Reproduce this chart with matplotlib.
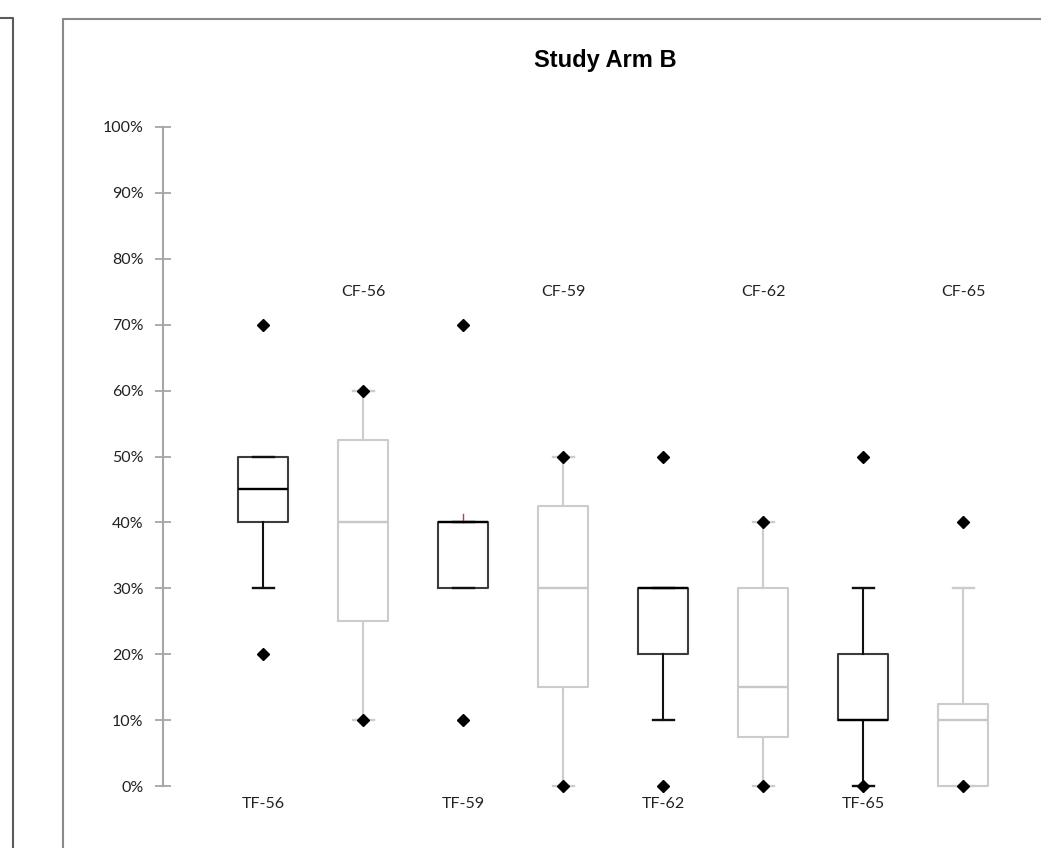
import matplotlib
matplotlib.use("Agg")
from matplotlib import pyplot as plt
from matplotlib.patches import Rectangle
from matplotlib.lines import Line2D
import numpy as np

# data (percent)
groups = ["TF-56", "CF-56", "TF-59", "CF-59", "TF-62", "CF-62", "TF-65", "CF-65"]
q1 = [40, 25, 30, 15, 20, 7.5, 10, 0]
med = [45, 40, 40, 30, 30, 15, 10, 10]
q3 = [50, 52.5, 40, 42.5, 30, 30, 20, 12.5]
whislo = [30, 10, 30, 0, 10, 0, 0, 0]
whishi = [50, 60, 40, 50, 30, 40, 30, 30]
fliers = [[70, 20], [60, 10], [70, 10], [50, 0], [50, 0], [40, 0], [50, 0], [40, 0]]
yticks = [0, 10, 20, 30, 40, 50, 60, 70, 80, 90, 100]
title = "Study Arm B"

label_font = "Lato"

W, H = 1041, 848
fig = plt.figure(figsize=(W / 100, H / 100), dpi=100)

# axes placed so that 0% / 100% and the first box line up with the picture
ax = fig.add_axes([163 / W, 62 / H, (W - 163) / W, 659 / H])

stats = []
for i in range(len(groups)):
    stats.append(dict(label=groups[i], q1=q1[i], med=med[i], q3=q3[i],
                      whislo=whislo[i], whishi=whishi[i], fliers=fliers[i]))

pos = np.arange(1, len(groups) + 1)
for i, s in enumerate(stats):
    tf = groups[i].startswith("TF")
    edge = "#3c3c3c" if tf else "#cccccc"
    wcol = "#111111" if tf else "#cccccc"
    mcol = "#000000" if tf else "#c8c8c8"
    parts = ax.bxp([s], positions=[pos[i]], widths=0.5, showfliers=True,
                   boxprops=dict(color=edge, linewidth=1.5),
                   whiskerprops=dict(color=wcol, linewidth=1.5),
                   capprops=dict(color=wcol, linewidth=1.7),
                   medianprops=dict(color=mcol, linewidth=1.7),
                   flierprops=dict(marker="D", markerfacecolor="black",
                                   markeredgecolor="black", markersize=6),
                   capwidths=0.21, manage_ticks=False)
    for art in parts["fliers"]:
        art.set_clip_on(False)
        art.set_zorder(5)
    for key in ["boxes", "caps", "medians", "whiskers"]:
        for art in parts[key]:
            art.set_clip_on(False)

# small red mark on top of TF-59
ax.plot([pos[2], pos[2]], [40, 41.2], color="#e0303c", linewidth=1)

ax.set_xlim(0, (W - 163) / 100)
ax.set_ylim(0, 100)

for sp in ["top", "right", "bottom"]:
    ax.spines[sp].set_visible(False)
ax.spines["left"].set_color("#a6a6a6")
ax.spines["left"].set_linewidth(1.5)

ax.set_xticks([])
ax.set_yticks(yticks)
ax.set_yticklabels([f"{t}%" for t in yticks], fontsize=11.5, family=label_font, color="#222222")
ax.tick_params(axis="y", direction="inout", length=12, width=1.3, color="#a6a6a6", pad=8)

# category labels: TF below the axis, CF near the top
for i, g in enumerate(groups):
    if g.startswith("TF"):
        ax.text(pos[i], -2.8, g, ha="center", va="center", fontsize=11.5,
                family=label_font, color="#222222", clip_on=False)
    else:
        ax.text(pos[i], 75, g, ha="center", va="center", fontsize=11.5,
                family=label_font, color="#222222", clip_on=False)

fig.text(605 / W, 1 - 61 / H, title, ha="center", va="center", fontsize=17,
         fontweight="bold", family="Liberation Sans")

# chart frame and the edge of the neighbouring chart
fig.add_artist(Rectangle((63 / W, -0.05), 1.1, 1 - 19 / H + 0.05, transform=fig.transFigure,
                         fill=False, edgecolor="#8a8a8a", linewidth=1.5))
fig.add_artist(Line2D([0, 13 / W, 13 / W], [1 - 18 / H, 1 - 18 / H, 0],
                      transform=fig.transFigure, color="#5a5a5a", linewidth=1.5))

fig.savefig("out.png", dpi=100)
